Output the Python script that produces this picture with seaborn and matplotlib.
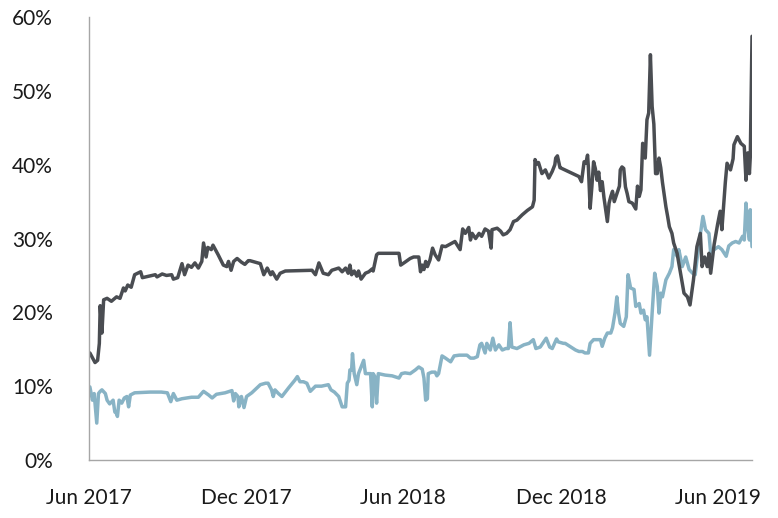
import pandas as pd
import numpy as np
import matplotlib
matplotlib.use("Agg")
import matplotlib.pyplot as plt
import matplotlib.dates as mdates
from matplotlib.ticker import PercentFormatter
import seaborn as sns

dark_dates = [
    "2017-06-02", "2017-06-08", "2017-06-11", "2017-06-13", "2017-06-14", "2017-06-16", "2017-06-18",
    "2017-06-22", "2017-06-27", "2017-07-03", "2017-07-07", "2017-07-11", "2017-07-13", "2017-07-16",
    "2017-07-20", "2017-07-24", "2017-07-31", "2017-08-02", "2017-08-17", "2017-08-19", "2017-08-25",
    "2017-08-30", "2017-09-05", "2017-09-07", "2017-09-12", "2017-09-17", "2017-09-20", "2017-09-24",
    "2017-09-28", "2017-10-02", "2017-10-06", "2017-10-10", "2017-10-12", "2017-10-15", "2017-10-17",
    "2017-10-21", "2017-10-23", "2017-10-29", "2017-11-04", "2017-11-08", "2017-11-10", "2017-11-13",
    "2017-11-16", "2017-11-20", "2017-11-25", "2017-11-29", "2017-12-03", "2017-12-05", "2017-12-17",
    "2017-12-21", "2017-12-25", "2017-12-29", "2017-12-31", "2018-01-05", "2018-01-09", "2018-01-15",
    "2018-02-15", "2018-02-19", "2018-02-23", "2018-02-28", "2018-03-06", "2018-03-10", "2018-03-18",
    "2018-03-22", "2018-03-26", "2018-03-29", "2018-03-31", "2018-04-02", "2018-04-05", "2018-04-08",
    "2018-04-10", "2018-04-13", "2018-04-18", "2018-04-22", "2018-04-26", "2018-04-27", "2018-05-01",
    "2018-05-03", "2018-05-27", "2018-05-29", "2018-06-03", "2018-06-09", "2018-06-13", "2018-06-19",
    "2018-06-21", "2018-06-23", "2018-06-25", "2018-06-27", "2018-06-29", "2018-07-02", "2018-07-05",
    "2018-07-08", "2018-07-12", "2018-07-16", "2018-07-20", "2018-07-28", "2018-07-31", "2018-08-06",
    "2018-08-09", "2018-08-12", "2018-08-16", "2018-08-18", "2018-08-20", "2018-08-24", "2018-08-28",
    "2018-08-31", "2018-09-04", "2018-09-08", "2018-09-11", "2018-09-12", "2018-09-18", "2018-09-22",
    "2018-09-25", "2018-09-29", "2018-10-03", "2018-10-07", "2018-10-11", "2018-10-17", "2018-10-23",
    "2018-10-29", "2018-10-31", "2018-11-01", "2018-11-03", "2018-11-05", "2018-11-09", "2018-11-13",
    "2018-11-17", "2018-11-21", "2018-11-24", "2018-11-25", "2018-11-27", "2018-11-30", "2018-12-02",
    "2018-12-22", "2018-12-25", "2018-12-28", "2018-12-30", "2019-01-01", "2019-01-02", "2019-01-04",
    "2019-01-06", "2019-01-08", "2019-01-10", "2019-01-12", "2019-01-14", "2019-01-16", "2019-01-18",
    "2019-01-20", "2019-01-24", "2019-01-26", "2019-01-28", "2019-01-30", "2019-02-01", "2019-02-03",
    "2019-02-07", "2019-02-08", "2019-02-10", "2019-02-12", "2019-02-14", "2019-02-16", "2019-02-18",
    "2019-02-22", "2019-02-26", "2019-02-28", "2019-03-02", "2019-03-04", "2019-03-06", "2019-03-09",
    "2019-03-11", "2019-03-13", "2019-03-15", "2019-03-17", "2019-03-19", "2019-03-21", "2019-03-23",
    "2019-03-25", "2019-03-27", "2019-03-29", "2019-04-02", "2019-04-04", "2019-04-06", "2019-04-09",
    "2019-04-11", "2019-04-15", "2019-04-19", "2019-04-23", "2019-04-27", "2019-04-30", "2019-05-04",
    "2019-05-08", "2019-05-12", "2019-05-14", "2019-05-17", "2019-05-20", "2019-05-22", "2019-05-24",
    "2019-05-28", "2019-06-01", "2019-06-04", "2019-06-06", "2019-06-08", "2019-06-10", "2019-06-12",
    "2019-06-16", "2019-06-19", "2019-06-20", "2019-06-24", "2019-06-28", "2019-07-02", "2019-07-04",
    "2019-07-06", "2019-07-08", "2019-07-09", "2019-07-11",
]
dark_values = [
    14.5, 13.2, 13.5, 15.8, 20.9, 17.2, 21.7,
    21.9, 21.5, 22.1, 21.9, 23.3, 22.9, 23.7,
    23.4, 25.1, 25.5, 24.7, 25.1, 24.8, 25.2,
    25.0, 25.1, 24.5, 24.7, 26.6, 25.1, 26.4,
    26.1, 26.7, 26.0, 26.9, 29.4, 27.5, 28.8,
    28.5, 29.1, 27.8, 26.4, 26.2, 26.9, 25.7,
    26.9, 27.3, 26.8, 26.5, 27.0, 27.0, 26.6,
    25.1, 26.0, 25.1, 25.5, 24.5, 25.3, 25.6,
    25.7, 25.1, 26.7, 25.3, 25.1, 25.7, 26.0,
    25.5, 26.0, 25.3, 26.4, 25.1, 25.6, 24.9,
    25.6, 24.5, 25.3, 25.5, 25.9, 25.6, 27.8,
    28.0, 28.0, 26.4, 26.8, 27.3, 27.5, 27.5,
    25.5, 26.4, 25.8, 26.9, 26.2, 27.1, 28.7,
    27.8, 27.1, 29.0, 28.9, 29.4, 29.6, 28.5,
    31.3, 30.7, 31.5, 29.8, 30.7, 30.0, 30.7,
    30.3, 31.3, 31.0, 28.7, 31.2, 31.4, 31.0,
    30.5, 30.7, 31.2, 32.3, 32.5, 33.2, 33.8,
    34.3, 35.2, 40.7, 40.1, 40.3, 38.8, 39.3,
    38.2, 39.1, 40.0, 40.9, 41.2, 39.6, 39.5,
    38.4, 37.7, 40.4, 40.2, 41.3, 39.6, 34.1,
    37.0, 40.4, 39.5, 37.9, 39.0, 36.5, 37.7,
    35.6, 32.3, 34.8, 35.7, 36.4, 35.0, 35.7,
    37.1, 39.3, 39.7, 39.5, 37.0, 36.1, 35.0,
    34.8, 34.0, 37.1, 35.7, 36.6, 42.9, 40.9,
    46.1, 47.0, 54.9, 47.9, 45.5, 38.8, 38.8,
    40.9, 39.6, 37.6, 34.3, 33.0, 31.6, 30.7,
    29.4, 28.0, 25.3, 22.6, 22.1, 21.0, 24.4,
    28.9, 30.7, 26.2, 27.5, 26.2, 28.0, 25.3,
    29.2, 31.9, 33.7, 31.2, 34.5, 37.6, 40.2,
    39.3, 40.8, 42.7, 43.8, 42.9, 42.5, 37.9,
    41.6, 38.8, 41.1, 57.4,
]

light_dates = [
    "2017-06-02", "2017-06-05", "2017-06-07", "2017-06-10", "2017-06-12", "2017-06-14", "2017-06-16",
    "2017-06-20", "2017-06-22", "2017-06-25", "2017-06-29", "2017-07-01", "2017-07-03", "2017-07-04",
    "2017-07-06", "2017-07-09", "2017-07-12", "2017-07-15", "2017-07-17", "2017-07-19", "2017-07-24",
    "2017-08-11", "2017-08-24", "2017-08-31", "2017-09-04", "2017-09-07", "2017-09-11", "2017-09-17",
    "2017-09-28", "2017-10-06", "2017-10-12", "2017-10-18", "2017-10-22", "2017-10-27", "2017-11-06",
    "2017-11-14", "2017-11-16", "2017-11-18", "2017-11-21", "2017-11-22", "2017-11-25", "2017-11-28",
    "2017-12-01", "2017-12-07", "2017-12-17", "2017-12-23", "2017-12-26", "2017-12-30", "2018-01-01",
    "2018-01-03", "2018-01-07", "2018-01-11", "2018-01-19", "2018-01-26", "2018-01-29", "2018-02-01",
    "2018-02-05", "2018-02-09", "2018-02-13", "2018-02-19", "2018-02-26", "2018-03-06", "2018-03-09",
    "2018-03-13", "2018-03-18", "2018-03-22", "2018-03-26", "2018-03-28", "2018-03-30", "2018-03-31",
    "2018-04-02", "2018-04-03", "2018-04-05", "2018-04-08", "2018-04-10", "2018-04-13", "2018-04-16",
    "2018-04-18", "2018-04-24", "2018-04-26", "2018-04-27", "2018-04-29", "2018-05-01", "2018-05-03",
    "2018-05-11", "2018-05-19", "2018-05-27", "2018-05-30", "2018-06-03", "2018-06-09", "2018-06-15",
    "2018-06-19", "2018-06-23", "2018-06-25", "2018-06-27", "2018-06-29", "2018-06-30", "2018-07-04",
    "2018-07-08", "2018-07-10", "2018-07-12", "2018-07-16", "2018-07-20", "2018-07-26", "2018-07-30",
    "2018-08-05", "2018-08-14", "2018-08-18", "2018-08-22", "2018-08-26", "2018-08-29", "2018-08-31",
    "2018-09-04", "2018-09-06", "2018-09-10", "2018-09-13", "2018-09-16", "2018-09-20", "2018-09-24",
    "2018-09-28", "2018-10-01", "2018-10-03", "2018-10-05", "2018-10-11", "2018-10-19", "2018-10-25",
    "2018-10-30", "2018-11-02", "2018-11-07", "2018-11-11", "2018-11-14", "2018-11-18", "2018-11-21",
    "2018-11-26", "2018-11-28", "2018-12-04", "2018-12-06", "2018-12-18", "2018-12-22", "2018-12-26",
    "2018-12-29", "2019-01-02", "2019-01-04", "2019-01-08", "2019-01-16", "2019-01-18", "2019-01-21",
    "2019-01-24", "2019-01-28", "2019-01-30", "2019-02-02", "2019-02-04", "2019-02-06", "2019-02-08",
    "2019-02-12", "2019-02-15", "2019-02-17", "2019-02-20", "2019-02-24", "2019-02-26", "2019-03-02",
    "2019-03-04", "2019-03-07", "2019-03-09", "2019-03-11", "2019-03-14", "2019-03-17", "2019-03-20",
    "2019-03-23", "2019-03-25", "2019-03-27", "2019-03-29", "2019-04-02", "2019-04-06", "2019-04-09",
    "2019-04-11", "2019-04-15", "2019-04-17", "2019-04-21", "2019-04-25", "2019-04-29", "2019-05-03",
    "2019-05-06", "2019-05-10", "2019-05-15", "2019-05-18", "2019-05-22", "2019-05-24", "2019-05-28",
    "2019-06-02", "2019-06-06", "2019-06-11", "2019-06-14", "2019-06-18", "2019-06-22", "2019-06-26",
    "2019-06-30", "2019-07-02", "2019-07-04", "2019-07-06", "2019-07-08", "2019-07-09", "2019-07-11",
]
light_values = [
    9.9, 8.1, 9.0, 5.0, 9.0, 9.3, 9.5,
    9.0, 8.1, 7.6, 8.1, 6.5, 6.3, 5.9,
    8.1, 7.7, 8.4, 8.6, 7.2, 8.8, 9.1,
    9.2, 9.2, 9.1, 7.9, 9.0, 8.1, 8.3,
    8.5, 8.5, 9.3, 8.8, 8.4, 8.9, 9.1,
    9.4, 8.0, 9.0, 8.6, 7.2, 8.6, 7.1,
    8.6, 9.1, 10.2, 10.4, 10.4, 9.5, 8.6,
    9.5, 9.0, 8.6, 9.8, 10.8, 11.3, 10.6,
    10.6, 10.4, 9.3, 10.0, 10.0, 10.2, 9.5,
    9.2, 8.6, 7.2, 7.2, 10.4, 10.8, 12.2,
    12.2, 14.4, 11.7, 10.2, 11.7, 12.6, 13.5,
    11.7, 11.7, 7.2, 11.7, 11.3, 7.7, 11.7,
    11.5, 11.4, 11.1, 11.7, 11.8, 11.7, 12.2,
    12.6, 12.3, 11.1, 8.1, 8.3, 11.7, 11.9,
    11.9, 11.4, 11.7, 14.1, 13.8, 13.3, 14.1,
    14.2, 14.2, 13.8, 13.8, 14.0, 15.6, 15.8,
    14.5, 15.8, 14.9, 16.5, 14.9, 15.6, 14.9,
    15.1, 15.1, 18.6, 15.3, 15.1, 15.6, 15.8,
    16.3, 15.1, 15.3, 16.0, 16.5, 15.3, 15.1,
    16.4, 16.0, 15.8, 15.8, 14.9, 14.7, 14.7,
    14.5, 14.5, 15.8, 16.3, 16.3, 15.4, 16.5,
    17.2, 17.2, 17.9, 20.0, 22.1, 19.9, 18.5,
    18.1, 19.4, 25.1, 23.3, 23.1, 20.8, 21.2,
    19.9, 20.3, 19.0, 19.4, 14.2, 19.9, 25.3,
    23.5, 19.9, 22.6, 22.1, 24.4, 25.3, 26.2,
    28.5, 27.6, 28.5, 26.2, 27.5, 25.8, 25.3,
    25.1, 29.0, 33.0, 31.2, 30.7, 28.0, 28.5,
    28.9, 28.5, 27.6, 29.0, 29.4, 29.6, 29.4,
    30.3, 29.8, 34.8, 31.6, 29.8, 33.9, 28.9,
]

tick_dates = ["2017-06-01", "2017-12-01", "2018-06-01", "2018-12-01", "2019-06-01"]
tick_labels = ["Jun 2017", "Dec 2017", "Jun 2018", "Dec 2018", "Jun 2019"]

dark = pd.DataFrame({"date": pd.to_datetime(dark_dates), "value": dark_values})
light = pd.DataFrame({"date": pd.to_datetime(light_dates), "value": light_values})

sns.set_style("white")
plt.rcParams["font.family"] = ["Lato", "DejaVu Sans"]

fig = plt.figure(figsize=(7.78, 5.18), dpi=100)
ax = fig.add_axes([0.1144, 0.112, 0.8522, 0.855])

sns.lineplot(data=light, x="date", y="value", color="#88b3c5", linewidth=2.5, ax=ax)
sns.lineplot(data=dark, x="date", y="value", color="#4a4d52", linewidth=2.5, ax=ax)

ax.set_ylim(0, 60)
ax.set_yticks(range(0, 61, 10))
ax.yaxis.set_major_formatter(PercentFormatter(100, decimals=0))
ax.set_xlim(pd.Timestamp("2017-06-01"), pd.Timestamp("2019-07-11"))
ax.set_xticks(pd.to_datetime(tick_dates))
ax.set_xticklabels(tick_labels)
ax.set_xlabel("")
ax.set_ylabel("")

for side in ["top", "right"]:
    ax.spines[side].set_visible(False)
for side in ["left", "bottom"]:
    ax.spines[side].set_color("#a6a6a6")
    ax.spines[side].set_linewidth(1.0)

ax.tick_params(axis="x", direction="in", length=7, width=1, color="#a6a6a6",
               labelsize=15, pad=20, labelcolor="#1a1a1a")
ax.tick_params(axis="y", length=0, labelsize=15, pad=26, labelcolor="#1a1a1a")

fig.savefig("out.png", dpi=100)
